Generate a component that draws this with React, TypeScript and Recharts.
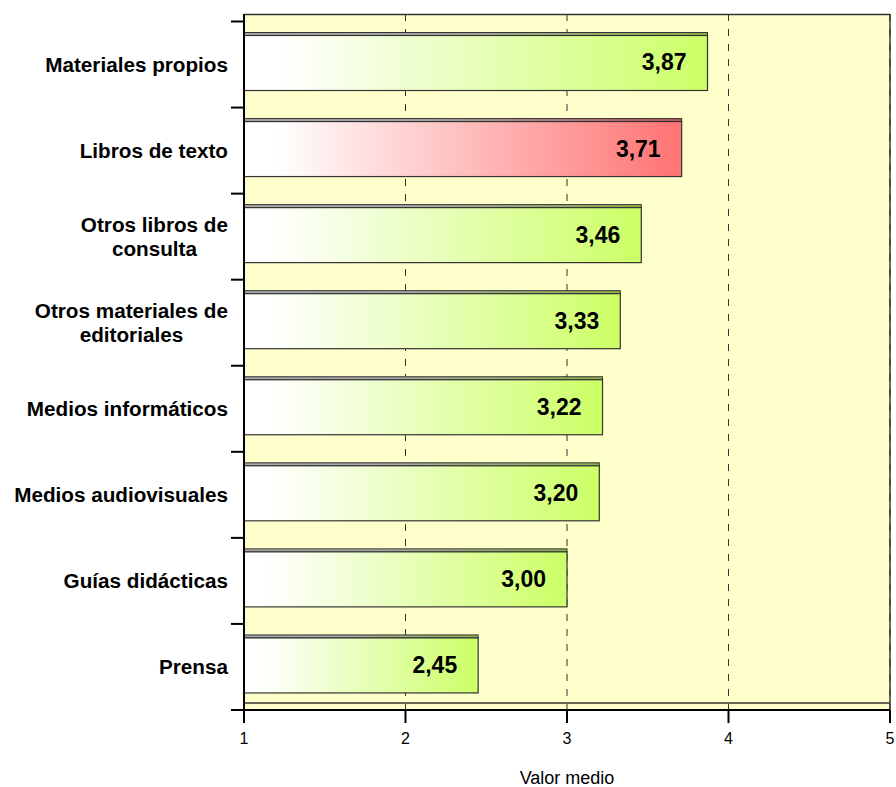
import React from 'react';
import { BarChart, Bar, XAxis, YAxis, CartesianGrid } from 'recharts';

const categories: string[] = [
  'Materiales propios',
  'Libros de texto',
  'Otros libros de\nconsulta',
  'Otros materiales de\neditoriales',
  'Medios informáticos',
  'Medios audiovisuales',
  'Guías didácticas',
  'Prensa',
];
const values: number[] = [3.87, 3.71, 3.46, 3.33, 3.22, 3.2, 3.0, 2.45];
const tones: string[] = ['green', 'red', 'green', 'green', 'green', 'green', 'green', 'green'];
const xTicks: number[] = [1, 2, 3, 4, 5];
const xDomain: [number, number] = [1, 5];
const xTitle = 'Valor medio';

const palette: Record<string, { end: string; dark: string }> = {
  green: { end: '#ccff66', dark: '#8fb24a' },
  red: { end: '#ff7373', dark: '#b85656' },
};

const data = categories.map((name, i) => ({ name, value: values[i], tone: tones[i] }));

const FONT = '"Liberation Sans", Arial, Helvetica, sans-serif';
const CAT_FONT_SIZE = 20.7;
const TICK_LEN = 13;
const TICK_GAP = 3;
const STRIP = 3;
const LIFT = 3;

let measureCtx: CanvasRenderingContext2D | null = null;
const measure = (t: string): number => {
  if (!measureCtx) {
    const c = document.createElement('canvas');
    measureCtx = c.getContext('2d');
  }
  if (!measureCtx) return t.length * CAT_FONT_SIZE * 0.55;
  measureCtx.font = `bold ${CAT_FONT_SIZE}px "Liberation Sans"`;
  return measureCtx.measureText(t).width;
};

const CatTick = (props: any) => {
  const { x, y, payload, index, visibleTicksCount } = props;
  const lines: string[] = String(payload.value).split('\n');
  const maxW = Math.max(...lines.map(measure));
  const cx = x - maxW / 2;
  const lh = CAT_FONT_SIZE * 1.14;
  const base = y + CAT_FONT_SIZE * 0.35 - ((lines.length - 1) * lh) / 2;
  const off = payload.offset ?? 0;
  const lx1 = x + TICK_GAP;
  const lx2 = x + TICK_GAP + TICK_LEN;
  return (
    <g>
      <line x1={lx1} x2={lx2} y1={y - off} y2={y - off} stroke="#000" strokeWidth={2} />
      {index === (visibleTicksCount ?? categories.length) - 1 && (
        <line x1={lx1} x2={lx2} y1={y + off} y2={y + off} stroke="#000" strokeWidth={2} />
      )}
      <text
        fontFamily={FONT}
        fontWeight="bold"
        fontSize={CAT_FONT_SIZE}
        fill="#000"
        textAnchor="middle"
      >
        {lines.map((l, i) => (
          <tspan key={i} x={cx} y={base + i * lh}>
            {l}
          </tspan>
        ))}
      </text>
    </g>
  );
};

const BarShape = (props: any) => {
  const { x, y, width, height, index, payload } = props;
  if (!width || width <= 0) return null;
  const c = palette[payload.tone] || palette.green;
  const gid = `bar-grad-${index}`;
  const sid = `strip-grad-${index}`;
  return (
    <g transform={`translate(0,${-LIFT})`}>
      <defs>
        <linearGradient id={gid} x1="0" y1="0" x2="1" y2="0">
          <stop offset="0" stopColor="#ffffff" />
          <stop offset="0.07" stopColor="#ffffff" />
          <stop offset="1" stopColor={c.end} />
        </linearGradient>
        <linearGradient id={sid} x1="0" y1="0" x2="1" y2="0">
          <stop offset="0" stopColor="#a8a8a8" />
          <stop offset="0.4" stopColor="#a8a8a8" />
          <stop offset="1" stopColor={c.dark} />
        </linearGradient>
      </defs>
      <rect x={x} y={y} width={width} height={STRIP} fill={`url(#${sid})`} stroke="#333" strokeWidth={1} />
      <rect
        x={x}
        y={y + STRIP}
        width={width}
        height={height - STRIP}
        fill={`url(#${gid})`}
        stroke="#333"
        strokeWidth={1.2}
      />
    </g>
  );
};

const renderValueLabel = (props: any) => {
  const { x, y, width, height, value } = props;
  const fs = 23;
  return (
    <text
      x={x + width - 21}
      y={y + height / 2 + fs * 0.26}
      textAnchor="end"
      fontFamily={FONT}
      fontWeight="bold"
      fontSize={fs}
      fill="#000"
    >
      {Number(value).toFixed(2).replace('.', ',')}
    </text>
  );
};

export default function App() {
  return (
    <div style={{ position: 'absolute', left: 0, top: 0, width: 896, height: 787, background: '#fff' }}>
      <BarChart
        width={896}
        height={787}
        data={data}
        layout="vertical"
        margin={{ top: 14, right: 6, bottom: 0, left: 0 }}
        barSize={58}
      >
        <CartesianGrid horizontal={false} stroke="#333" strokeDasharray="7 8" fill="#ffffcc" fillOpacity={1} />
        <CartesianGrid
          stroke="#333"
          strokeWidth={1.5}
          fill="none"
          horizontalCoordinatesGenerator={(p: any) => [p.offset.top + 0.5, p.offset.top + p.offset.height - 7]}
          verticalCoordinatesGenerator={(p: any) => [p.offset.left + p.offset.width]}
        />
        <XAxis
          type="number"
          domain={xDomain}
          ticks={xTicks}
          interval={0}
          tickSize={13}
          tickMargin={10}
          height={77}
          axisLine={{ stroke: '#000', strokeWidth: 2 }}
          tickLine={{ stroke: '#000', strokeWidth: 2 }}
          tick={{ fill: '#000', fontSize: 16, fontFamily: FONT }}
          label={{ value: xTitle, position: 'insideBottom', offset: 3, fill: '#000', fontSize: 18, fontFamily: FONT }}
        />
        <YAxis
          type="category"
          dataKey="name"
          width={244}
          interval={0}
          padding={{ top: 7.5, bottom: 0 }}
          axisLine={{ stroke: '#000', strokeWidth: 2 }}
          tickLine={false}
          tickSize={0}
          tickMargin={TICK_GAP + TICK_LEN}
          tick={<CatTick />}
        />
        <Bar dataKey="value" isAnimationActive={false} shape={BarShape} label={renderValueLabel} />
      </BarChart>
    </div>
  );
}
